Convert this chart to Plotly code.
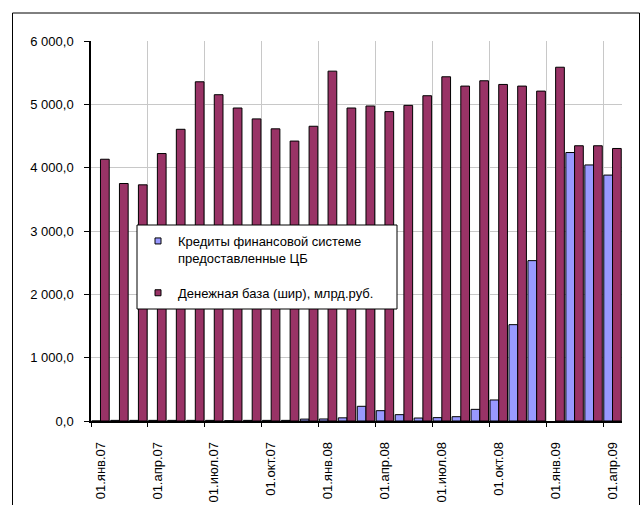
import plotly.graph_objects as go

# ---------------- data ----------------
months = [
    "01.янв.07", "01.фев.07", "01.мар.07", "01.апр.07", "01.май.07", "01.июн.07",
    "01.июл.07", "01.авг.07", "01.сен.07", "01.окт.07", "01.ноя.07", "01.дек.07",
    "01.янв.08", "01.фев.08", "01.мар.08", "01.апр.08", "01.май.08", "01.июн.08",
    "01.июл.08", "01.авг.08", "01.сен.08", "01.окт.08", "01.ноя.08", "01.дек.08",
    "01.янв.09", "01.фев.09", "01.мар.09", "01.апр.09",
]
credits = [0, 10, 10, 10, 10, 10, 10, 5, 10, 10, 10, 30, 32, 50, 232, 163, 100,
           47, 53, 68, 184, 332, 1521, 2532, None, 4239, 4043, 3883]
base = [4133, 3750, 3729, 4223, 4606, 5356, 5152, 4942, 4770, 4613, 4420, 4654,
        5524, 4942, 4974, 4885, 4984, 5136, 5435, 5288, 5372, 5314, 5288, 5209,
        5586, 4346, 4346, 4303]
name_credits = "Кредиты финансовой системе<br>предоставленные ЦБ"
name_base = "Денежная база (шир), млрд.руб."
y_ticks = [0, 1000, 2000, 3000, 4000, 5000, 6000]

# ---------------- layout constants ----------------
W, H = 642, 505
PL, PR, PT, PB = 91, 20, 41, 84
pw, ph = W - PL - PR, H - PT - PB


def px_x(x):
    return (x - PL) / pw


def px_y(y):
    return (H - PB - y) / ph


FONT = "Liberation Sans, Arial, sans-serif"
BLUE = "#9999FF"
MAROON = "#993366"

idx = list(range(len(months)))
label_idx = idx[::3]
boundaries = [i - 0.5 for i in idx[::3]]

fig = go.Figure()
fig.add_trace(go.Bar(x=idx, y=credits, marker=dict(color=BLUE, line=dict(color="#000000", width=1)),
                     name=name_credits, legendgroup="c", showlegend=False))
fig.add_trace(go.Bar(x=idx, y=base, marker=dict(color=MAROON, line=dict(color="#000000", width=1)),
                     name=name_base, legendgroup="b", showlegend=False))
# legend entries (small square markers like the original)
fig.add_trace(go.Scatter(x=[None], y=[None], mode="markers", xaxis="x2",
                         marker=dict(symbol="square", size=6, color=BLUE, line=dict(color="#000000", width=1)),
                         name=name_credits, legendgroup="c"))
fig.add_trace(go.Scatter(x=[None], y=[None], mode="markers", xaxis="x2",
                         marker=dict(symbol="square", size=6, color=MAROON, line=dict(color="#000000", width=1)),
                         name=name_base, legendgroup="b"))

fig.update_layout(
    width=W, height=H, autosize=False,
    margin=dict(l=PL, r=PR, t=PT, b=PB, pad=0, autoexpand=False),
    paper_bgcolor="white", plot_bgcolor="white",
    font=dict(family=FONT, size=13, color="#000000"),
    separators=", ",
    barmode="group", bargap=0.08, bargroupgap=0,
    xaxis=dict(
        range=[-0.5, len(months) - 0.5], tickmode="array",
        tickvals=label_idx, ticktext=[months[i] for i in label_idx],
        tickangle=-90, ticks="", showgrid=False, zeroline=False,
        showline=True, linecolor="#000000", linewidth=1.5,
        tickfont=dict(size=13, family=FONT), ticklabelstandoff=14,
        automargin=False,
    ),
    xaxis2=dict(
        overlaying="x", anchor="y", side="bottom",
        range=[-0.5, len(months) - 0.5], tickmode="array",
        tickvals=boundaries, showticklabels=False,
        ticks="outside", ticklen=5, tickcolor="#000000", tickwidth=1,
        showgrid=True, gridcolor="#c8c8c8", gridwidth=1,
        zeroline=False, showline=False, automargin=False,
    ),
    yaxis=dict(
        range=[0, 6000], tickmode="array", tickvals=y_ticks,
        tickformat=",.1f", ticks="outside", ticklen=5, tickcolor="#000000",
        showgrid=True, gridcolor="#c8c8c8", gridwidth=1,
        zeroline=False, showline=True, linecolor="#000000", linewidth=1.5,
        tickfont=dict(size=13, family=FONT), ticklabelstandoff=8,
        automargin=False,
    ),
    legend=dict(
        x=px_x(138), y=px_y(226), xanchor="left", yanchor="top",
        bgcolor="rgba(0,0,0,0)", borderwidth=0, valign="top",
        tracegroupgap=15, font=dict(size=13, family=FONT),
    ),
    shapes=[
        # legend box
        dict(type="rect", xref="paper", yref="paper", layer="above",
             x0=px_x(137), x1=px_x(397), y0=px_y(309), y1=px_y(225),
             fillcolor="white", line=dict(color="#000000", width=1)),
        # outer chart border
        dict(type="rect", xref="paper", yref="paper", layer="below",
             x0=px_x(12.5), x1=px_x(639.5), y0=px_y(530), y1=px_y(13),
             fillcolor="rgba(0,0,0,0)", line=dict(color="#000000", width=1)),
    ],
)

fig.write_html("out.html")
